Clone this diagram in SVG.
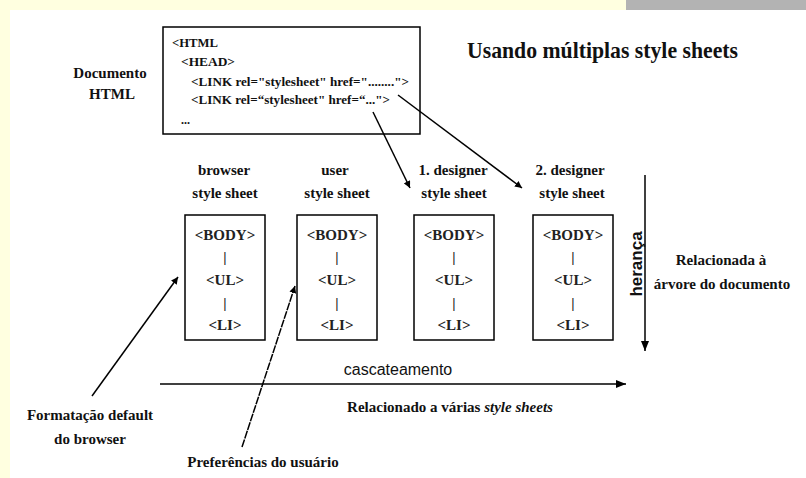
<svg xmlns="http://www.w3.org/2000/svg" width="806" height="478" viewBox="0 0 806 478">
<defs>
<marker id="ah" viewBox="0 0 10 10" refX="10" refY="5" markerWidth="7" markerHeight="7" markerUnits="userSpaceOnUse" orient="auto">
<path d="M0,0 L10,5 L0,10 z" fill="#000"/>
</marker>
<marker id="ahb" viewBox="0 0 10 10" refX="10" refY="5" markerWidth="10" markerHeight="10" markerUnits="userSpaceOnUse" orient="auto">
<path d="M0,1 L10,5 L0,9 z" fill="#000"/>
</marker>
</defs>
<style>
.s{font-family:"Liberation Serif","Times New Roman",serif;font-weight:bold;fill:#111}
.c{font-size:12px}
.l{font-size:15px;text-anchor:middle}
.b{font-size:15px;text-anchor:middle;fill:#222}
.a{font-family:"Liberation Sans",Arial,sans-serif;fill:#111}
.box{fill:#fff;stroke:#000;stroke-width:1.5}
.ln{fill:none;stroke:#000;stroke-width:1.5}
</style>
<rect x="0" y="0" width="806" height="478" fill="#fff"/>
<rect x="0" y="0" width="626" height="10" fill="#ffffe0"/>
<rect x="0" y="0" width="10" height="478" fill="#ffffe0"/>
<rect x="626" y="0" width="180" height="10" fill="#b3b3b3"/>

<text class="s" x="467" y="58" font-size="24" textLength="271" lengthAdjust="spacingAndGlyphs">Usando múltiplas style sheets</text>

<g id="doc-label">
<text class="s l" x="110" y="78">Documento</text>
<text class="s l" x="112" y="99">HTML</text>
</g>

<g id="html-doc">
<rect class="box" x="163" y="27" width="257" height="107"/>
<text class="s c" x="172" y="47" textLength="46" lengthAdjust="spacingAndGlyphs">&lt;HTML</text>
<text class="s c" x="181" y="66" textLength="54" lengthAdjust="spacingAndGlyphs">&lt;HEAD&gt;</text>
<text class="s c" x="191" y="86" textLength="218" lengthAdjust="spacingAndGlyphs">&lt;LINK rel="stylesheet" href="........"&gt;</text>
<text class="s c" x="191" y="104" textLength="199" lengthAdjust="spacingAndGlyphs">&lt;LINK rel=“stylesheet" href=“..."&gt;</text>
<text class="s c" x="181" y="124">...</text>
</g>

<g id="browser-sheet">
<text class="s l" x="224" y="175">browser</text>
<text class="s l" x="225" y="198">style sheet</text>
<rect class="box" x="185" y="215" width="80" height="125"/>
<text class="s b" x="225" y="240">&lt;BODY&gt;</text>
<text class="s b" x="225" y="262">|</text>
<text class="s b" x="225" y="285">&lt;UL&gt;</text>
<text class="s b" x="225" y="308">|</text>
<text class="s b" x="225" y="330">&lt;LI&gt;</text>
</g>

<g id="user-sheet">
<text class="s l" x="335" y="175">user</text>
<text class="s l" x="337" y="198">style sheet</text>
<rect class="box" x="297" y="215" width="80" height="125"/>
<text class="s b" x="337" y="240">&lt;BODY&gt;</text>
<text class="s b" x="337" y="262">|</text>
<text class="s b" x="337" y="285">&lt;UL&gt;</text>
<text class="s b" x="337" y="308">|</text>
<text class="s b" x="337" y="330">&lt;LI&gt;</text>
</g>

<g id="designer1-sheet">
<text class="s l" x="453" y="175">1. designer</text>
<text class="s l" x="454" y="198">style sheet</text>
<rect class="box" x="414" y="215" width="80" height="125"/>
<text class="s b" x="454" y="240">&lt;BODY&gt;</text>
<text class="s b" x="454" y="262">|</text>
<text class="s b" x="454" y="285">&lt;UL&gt;</text>
<text class="s b" x="454" y="308">|</text>
<text class="s b" x="454" y="330">&lt;LI&gt;</text>
</g>

<g id="designer2-sheet">
<text class="s l" x="570" y="175">2. designer</text>
<text class="s l" x="572" y="198">style sheet</text>
<rect class="box" x="533" y="215" width="80" height="125"/>
<text class="s b" x="573" y="240">&lt;BODY&gt;</text>
<text class="s b" x="573" y="262">|</text>
<text class="s b" x="573" y="285">&lt;UL&gt;</text>
<text class="s b" x="573" y="308">|</text>
<text class="s b" x="573" y="330">&lt;LI&gt;</text>
</g>

<g id="heranca">
<text class="a" x="0" y="0" font-size="17" font-weight="bold" text-anchor="middle" transform="translate(642,264) rotate(-90)">herança</text>
<text class="s l" x="721" y="265">Relacionada à</text>
<text class="s l" x="722" y="289">árvore do documento</text>
</g>

<g id="cascateamento">
<text class="a" x="398" y="375" font-size="16" text-anchor="middle">cascateamento</text>
<text class="s l" x="450" y="412">Relacionado a várias <tspan font-style="italic">style sheets</tspan></text>
</g>

<g id="notes">
<text class="s l" x="90" y="420">Formatação default</text>
<text class="s l" x="90" y="444">do browser</text>
<text class="s l" x="263" y="467">Preferências do usuário</text>
</g>

<g id="connectors">
<line class="ln" x1="398" y1="95" x2="522" y2="188" marker-end="url(#ah)"/>
<line class="ln" x1="373" y1="112" x2="410" y2="188" marker-end="url(#ah)"/>
<line class="ln" x1="92" y1="396" x2="178" y2="277" marker-end="url(#ah)"/>
<line class="ln" x1="242" y1="447" x2="295" y2="286" stroke-dasharray="8 1" marker-end="url(#ah)"/>
<line class="ln" x1="645" y1="175" x2="645" y2="351" marker-end="url(#ahb)"/>
<line class="ln" x1="160" y1="384" x2="626" y2="384" marker-end="url(#ahb)"/>
</g>
</svg>
